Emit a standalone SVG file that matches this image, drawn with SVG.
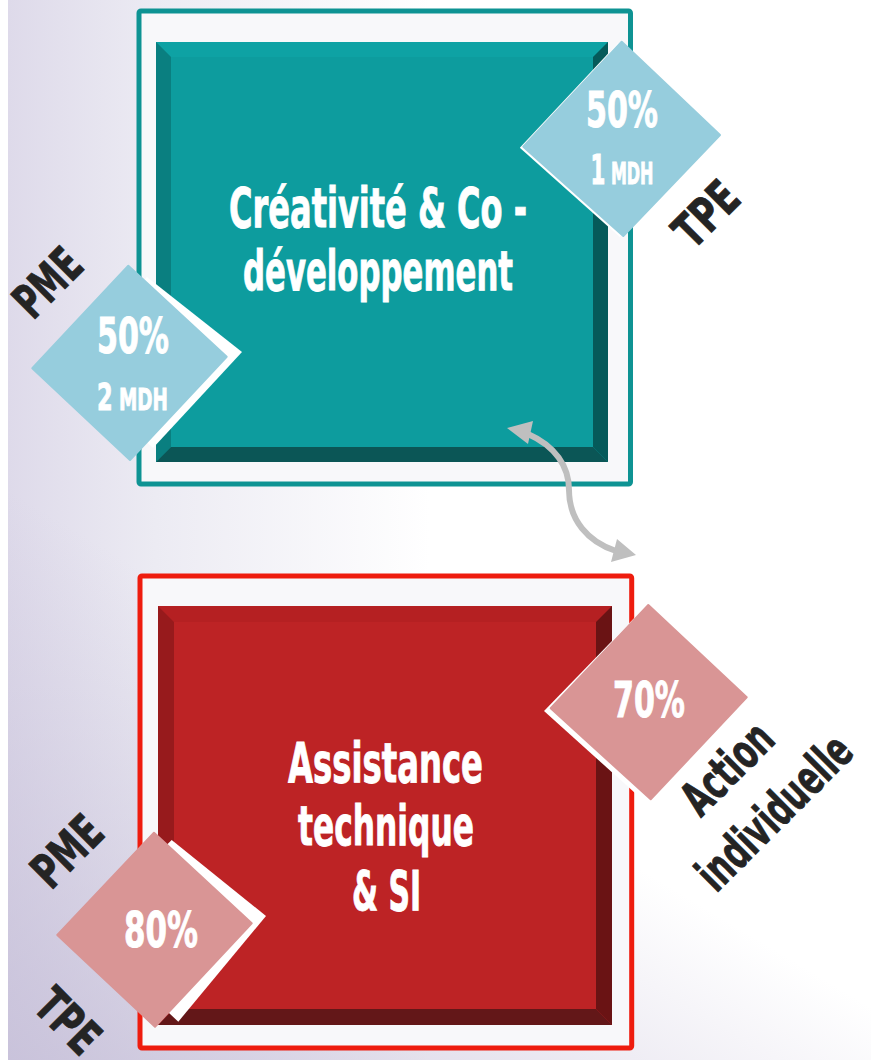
<svg xmlns="http://www.w3.org/2000/svg" width="871" height="1060" viewBox="0 0 871 1060">
<defs>
  <linearGradient id="bgH" gradientUnits="userSpaceOnUse" x1="8" y1="0" x2="430" y2="0">
    <stop offset="0" stop-color="#dedaea"/>
    <stop offset="0.35" stop-color="#ecebf3"/>
    <stop offset="1" stop-color="#ffffff"/>
  </linearGradient>
  <linearGradient id="bgV" gradientUnits="userSpaceOnUse" x1="8" y1="1060" x2="260" y2="640">
    <stop offset="0" stop-color="#c4bdd7" stop-opacity="0.8"/>
    <stop offset="1" stop-color="#c4bdd7" stop-opacity="0"/>
  </linearGradient>
</defs>
<style>
  .f{font-family:'Liberation Sans Narrow','DejaVu Sans Condensed','Liberation Sans',sans-serif;font-weight:bold;}
  .w{fill:#ffffff;stroke:#ffffff;stroke-width:0.9;}
  .k{fill:#242424;stroke:#242424;stroke-width:0.8;font-size:48px;text-anchor:middle;}
  .title{font-size:56px;text-anchor:middle;}
  .pct{font-size:49px;text-anchor:middle;}
  .frame{fill:#f8f8fa;stroke-width:5;}
  .blue{fill:#96cddd;stroke:#96cddd;stroke-width:2;stroke-linejoin:round;}
  .pink{fill:#d99595;stroke:#d99595;stroke-width:2;stroke-linejoin:round;}
  .shadow{fill:#ffffff;}
  .conn{fill:none;stroke:#bfbfbf;stroke-width:6;}
  .head{fill:#bfbfbf;}
</style>

<g id="background">
  <rect x="0" y="0" width="871" height="1060" fill="#ffffff"/>
  <rect x="8" y="0" width="863" height="1060" fill="url(#bgH)"/>
  <rect x="8" y="0" width="863" height="1060" fill="url(#bgV)"/>
</g>

<g id="node-creativite">
  <rect class="frame" x="139" y="11" width="491.5" height="473" rx="2" stroke="#0e9393"/>
  <rect x="156" y="42" width="452" height="420" fill="#0d9c9e"/>
  <polygon points="156,42 608,42 593,57 171,57" fill="#0ea2a4"/>
  <polygon points="156,42 171,57 171,447 156,462" fill="#0a7f80"/>
  <polygon points="156,462 171,447 593,447 608,462" fill="#0b5656"/>
  <polygon points="608,42 593,57 593,447 608,462" fill="#055a5a"/>
  <text class="f w title" x="378" y="227" textLength="298" lengthAdjust="spacingAndGlyphs">Créativité &amp; Co -</text>
  <text class="f w title" x="378" y="290" textLength="270" lengthAdjust="spacingAndGlyphs">développement</text>
</g>

<g id="node-assistance">
  <rect class="frame" x="140" y="576" width="491.7" height="472" rx="2" stroke="#ee1c0e"/>
  <rect x="158" y="606" width="454" height="419" fill="#bd2325"/>
  <polygon points="158,606 612,606 596,622 174,622" fill="#b52022"/>
  <polygon points="158,606 174,622 174,1009 158,1025" fill="#971a1c"/>
  <polygon points="158,1025 174,1009 596,1009 612,1025" fill="#631718"/>
  <polygon points="612,606 596,622 596,1009 612,1025" fill="#6a1314"/>
  <text class="f w title" x="385.5" y="782" textLength="195" lengthAdjust="spacingAndGlyphs">Assistance</text>
  <text class="f w title" x="386" y="845" textLength="176" lengthAdjust="spacingAndGlyphs">technique</text>
  <text class="f w title" x="386.5" y="910" textLength="69" lengthAdjust="spacingAndGlyphs">&amp; SI</text>
</g>

<g id="connectors">
  <path class="conn" d="M 528 434 C 555 446, 569 466, 569 490 C 569 520, 588 542, 616 551"/>
  <polygon class="head" points="507,428 533,421 528,444"/>
  <polygon class="head" points="636,555 617,539 611,562"/>
</g>

<g id="badge-creativite-pme">
  <polygon class="shadow" points="60,362 147,277 242,352 153,448"/>
  <polygon class="blue" points="32.3,368.3 128.3,265.7 226.7,356.7 130,460"/>
  <text class="f w pct" x="133" y="353" textLength="72" lengthAdjust="spacingAndGlyphs">50%</text>
  <text class="f w mdh" x="132.5" y="410" text-anchor="middle" textLength="71" lengthAdjust="spacingAndGlyphs"><tspan font-size="38">2</tspan><tspan font-size="31"> MDH</tspan></text>
  <text class="f k" x="59.5" y="294.5" transform="rotate(-45 59.5 294.5)" textLength="75" lengthAdjust="spacingAndGlyphs">PME</text>
</g>

<g id="badge-creativite-tpe">
  <polygon class="shadow" points="618.2,42.7 716.5,136 619.8,237 519.8,147.7"/>
  <polygon class="blue" points="621.7,41.7 720,135 623.3,236 523.3,146.7"/>
  <text class="f w pct" x="622" y="127" textLength="72" lengthAdjust="spacingAndGlyphs">50%</text>
  <text class="f w mdh" x="622" y="184" text-anchor="middle" textLength="63" lengthAdjust="spacingAndGlyphs"><tspan font-size="40">1</tspan><tspan font-size="30"> MDH</tspan></text>
  <text class="f k" x="718" y="226" transform="rotate(-45 718 226)" textLength="71" lengthAdjust="spacingAndGlyphs">TPE</text>
</g>

<g id="badge-assistance-individuelle">
  <polygon class="shadow" points="643,609 741,701 645,802 544,711"/>
  <polygon class="pink" points="648.3,605 746.7,697.3 650.7,799.3 550.7,708.3"/>
  <text class="f w pct" x="649" y="717" textLength="72" lengthAdjust="spacingAndGlyphs">70%</text>
  <text class="f k" x="739" y="780" transform="rotate(-45 739 780)" textLength="108" lengthAdjust="spacingAndGlyphs">Action</text>
  <text class="f k" x="786" y="824" transform="rotate(-45 786 824)" textLength="197" lengthAdjust="spacingAndGlyphs">individuelle</text>
</g>

<g id="badge-assistance-pme-tpe">
  <polygon class="shadow" points="80,930 171.7,840 266,916 178.3,1021.7"/>
  <polygon class="pink" points="154,832.7 251.7,923.3 155,1026.7 57.3,935"/>
  <text class="f w pct" x="161" y="947" font-size="50" textLength="74" lengthAdjust="spacingAndGlyphs">80%</text>
  <text class="f k" x="79" y="863" transform="rotate(-45 79 863)" textLength="79" lengthAdjust="spacingAndGlyphs">PME</text>
  <text class="f k" x="56" y="1033" transform="rotate(45 56 1033)" textLength="70" lengthAdjust="spacingAndGlyphs">TPE</text>
</g>
</svg>
